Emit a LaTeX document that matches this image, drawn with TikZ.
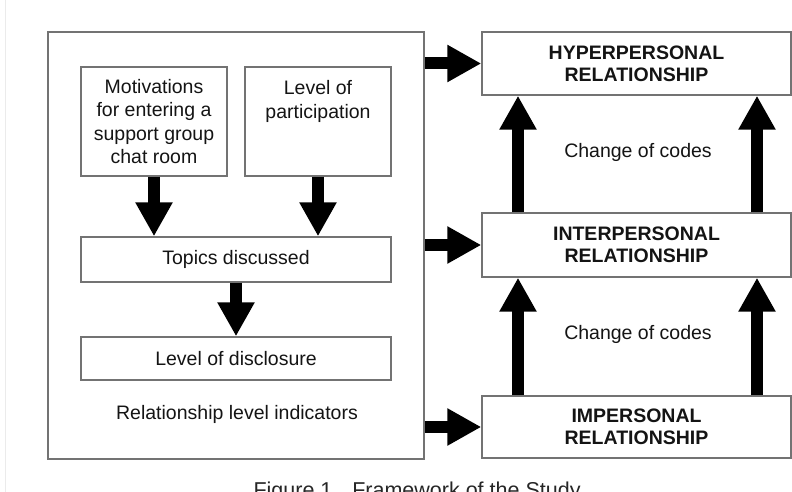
\documentclass[tikz,border=0pt]{standalone}
\usepackage{fontspec}
\setmainfont{Liberation Sans}
\usetikzlibrary{arrows.meta}
\definecolor{cframe}{RGB}{115,115,115}
\definecolor{ctext}{RGB}{20,20,20}
\tikzset{fw/.style={x=1pt,y=-1pt,font=\fontsize{19.5}{23.3}\selectfont,text=ctext}}
\tikzset{ibox/.style={draw=cframe,line width=1.4pt,inner sep=0pt,align=center},
         fat/.style={line width=12pt,-{Triangle[length=34pt,width=35pt]}}}

\begin{document}
\begin{tikzpicture}[fw]
    \clip (0,0) rectangle (792,492);
    \fill[white] (0,0) rectangle (792,492);
    \draw[black!8,line width=1pt] (5,0) -- (5,492);
    % left frame and indicators
    \node[ibox,minimum width=376pt,minimum height=427pt] (indic) at (236,245.5) {};
    \node[ibox,minimum width=146pt,minimum height=109pt] (motiv) at (154,121.5)
        {Motivations\\for entering a\\support group\\chat room};
    \node[ibox,minimum width=146pt,minimum height=109pt,
          label={[name=parttxt,anchor=north,align=center,yshift=-11pt]north:Level of\\participation}]
          (part) at (318,121.5) {};
    \node[ibox,minimum width=310pt,minimum height=45pt] (topics) at (236,259.5) {Topics discussed};
    \node[ibox,minimum width=310pt,minimum height=43pt] (discl) at (236,358.5) {Level of disclosure};
    \node (indtxt) at (237,414) {Relationship level indicators};
    % relationship levels
    \node[ibox,minimum width=309pt,minimum height=63pt,font=\bfseries\fontsize{19.5}{22}\selectfont]
        (hyper) at (636.5,63.5) {HYPERPERSONAL\\RELATIONSHIP};
    \node[ibox,minimum width=309pt,minimum height=64pt,font=\bfseries\fontsize{19.5}{22}\selectfont]
        (inter) at (636.5,245) {INTERPERSONAL\\RELATIONSHIP};
    \node[ibox,minimum width=309pt,minimum height=62pt,font=\bfseries\fontsize{19.5}{22}\selectfont]
        (imper) at (636.5,427) {IMPERSONAL\\RELATIONSHIP};
    \node (code1) at (638,152) {Change of codes};
    \node (code2) at (638,334) {Change of codes};
    % block arrows
    \draw[fat] (motiv.south) -- (motiv.south |- topics.north);
    \draw[fat] (part.south) -- (part.south |- topics.north);
    \draw[fat] (topics.south) -- (discl.north);
    \foreach \rel in {hyper,inter,imper}
        \draw[fat] (\rel.west -| indic.east) -- (\rel.west);
    \foreach \x in {518,757} {
        \draw[fat] (inter.north -| \x,0) -- (hyper.south -| \x,0);
        \draw[fat] (imper.north -| \x,0) -- (inter.south -| \x,0);
    }
    \node[anchor=base west,font=\fontsize{21.5}{24}\selectfont,text=black!85] (capt) at (250,497)
        {Figure 1.~ Framework of the Study};
\end{tikzpicture}
\end{document}
